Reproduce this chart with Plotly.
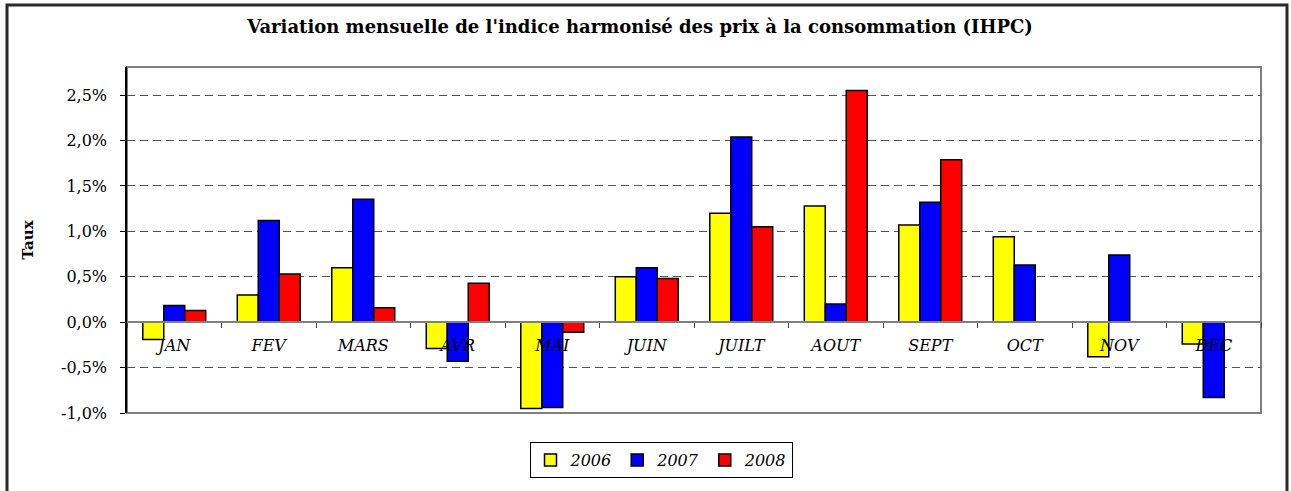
import plotly.graph_objects as go

months = ["JAN", "FEV", "MARS", "AVR", "MAI", "JUIN", "JUILT", "AOUT", "SEPT", "OCT", "NOV", "DEC"]
v2006 = [-0.19, 0.30, 0.60, -0.29, -0.95, 0.50, 1.20, 1.28, 1.07, 0.94, -0.38, -0.24]
v2007 = [0.185, 1.12, 1.355, -0.43, -0.94, 0.60, 2.04, 0.20, 1.32, 0.63, 0.74, -0.83]
v2008 = [0.13, 0.53, 0.16, 0.43, -0.11, 0.48, 1.05, 2.55, 1.79, None, None, None]
years = ["2006", "2007", "2008"]
colors = ["#FFFF00", "#0000FF", "#FF0000"]
y_ticks = [-1.0, -0.5, 0.0, 0.5, 1.0, 1.5, 2.0, 2.5]
y_ticktext = [f"{v:.1f}%".replace(".", ",") for v in y_ticks]
y_min, y_max = -1.0, 2.81

serif = "DejaVu Serif, Liberation Serif, serif"

fig = go.Figure()
for name, vals, col in zip(years, [v2006, v2007, v2008], colors):
    fig.add_trace(go.Bar(
        x=months, y=vals, name=name,
        marker=dict(color=col, line=dict(color="black", width=1.5)),
    ))

W, H = 1291, 491
ml, mr, mt, mb = 127, 30, 67, 78
pw, ph = W - ml - mr, H - mt - mb

fig.update_layout(
    width=W, height=H,
    margin=dict(l=ml, r=mr, t=mt, b=mb, autoexpand=False),
    paper_bgcolor="white", plot_bgcolor="white",
    barmode="group", bargap=0.334, bargroupgap=0,
    font=dict(family=serif, size=15, color="black"),
    title=dict(
        text="<b>Variation mensuelle de l'indice harmonisé des prix à la consommation (IHPC)</b>",
        x=(640 - ml) / pw, xref="paper", xanchor="center",
        y=1 - 27 / H, yanchor="middle",
        font=dict(family=serif, size=18, color="black"),
    ),
    showlegend=True,
    legend=dict(
        orientation="h", x=(661 - ml) / pw, xanchor="center",
        y=-(442 - (mt + ph)) / ph, yanchor="top",
        bordercolor="black", borderwidth=1,
        font=dict(family=serif, size=16, style="italic"),
        itemwidth=30,
    ),
    xaxis=dict(
        anchor="free",
        position=(0 - y_min) / (y_max - y_min),
        automargin=False,
        showline=True, linecolor="#808080", linewidth=2,
        ticks="outside", tickson="boundaries", ticklen=5, tickcolor="#444",
        ticklabelstandoff=9,
        tickfont=dict(family=serif, size=16, style="italic"),
        showgrid=False,
    ),
    yaxis=dict(
        range=[y_min, y_max],
        automargin=False,
        tickvals=y_ticks, ticktext=y_ticktext,
        showline=True, linecolor="black", linewidth=1.5,
        ticks="outside", ticklen=5, tickcolor="black",
        ticklabelstandoff=10,
        showgrid=True, gridcolor="#555", griddash="8px,5px", gridwidth=1,
        zeroline=False,
        tickfont=dict(family=serif, size=16),
        title=dict(text="<b>Taux</b>", font=dict(family=serif, size=15), standoff=24),
    ),
)

# plot-area border
fig.add_shape(type="rect", xref="x domain", yref="y domain", x0=0, x1=1, y0=0, y1=1,
              line=dict(color="#808080", width=2), layer="below")
# outer chart border
fig.add_shape(type="rect", xref="paper", yref="paper",
              x0=(7 - ml) / pw, x1=(1287 - ml) / pw,
              y0=-(494 - (mt + ph)) / ph, y1=(mt + ph - 5) / ph,
              line=dict(color="#2a2a2a", width=3))

fig.write_html("out.html", config={"displayModeBar": False},
               post_script="document.body.style.margin='0';")
